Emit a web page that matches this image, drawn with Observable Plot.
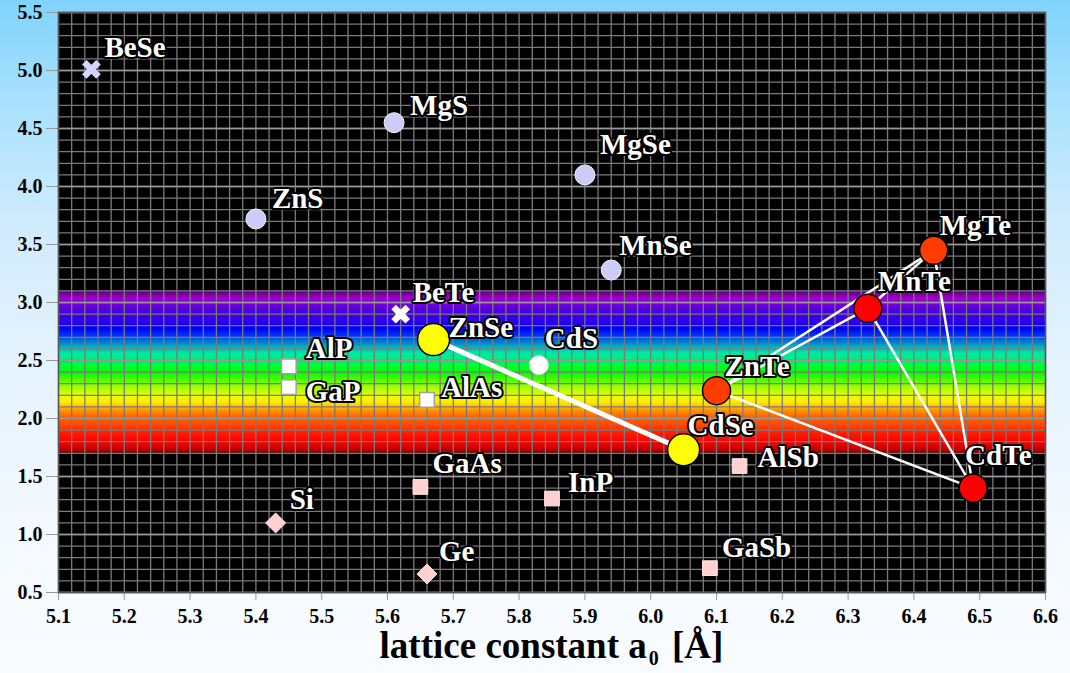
<!DOCTYPE html>
<html>
<head>
<meta charset="utf-8">
<script src="https://cdn.jsdelivr.net/npm/d3@7"></script>
<script src="https://cdn.jsdelivr.net/npm/@observablehq/plot@0.6"></script>
<style>
  html, body { margin: 0; padding: 0; }
  #chart {
    position: relative;
    width: 1070px;
    height: 673px;
    overflow: hidden;
    background: linear-gradient(to bottom, #7fd3fc 0%, #a6e0fd 14%, #cdebfd 32%, #e3f2fe 52%, #f3f9ff 78%, #f9fcff 100%);
    font-family: "Liberation Serif", "Times New Roman", serif;
  }
  #chart svg g[aria-label$="tick label"],
  #chart svg .tick text {
    font-size: 20px;
    font-weight: bold;
    font-family: "Liberation Serif", serif;
  }
  #xlabel {
    position: absolute;
    left: 58px;
    width: 987px;
    top: 631px;
    text-align: center;
    font-size: 37px;
    line-height: 30px;
    font-weight: bold;
    color: #000;
    white-space: nowrap;
  }
  #xlabel sub { font-size: 20px; vertical-align: -7px; margin: 0 4px 0 2px; line-height: 0; }
</style>
</head>
<body>
<div id="chart"></div>
<script>
// Semiconductor compounds: lattice constant a0 (Å) vs band-gap energy (eV)
const compounds = ["BeSe", "MgS", "MgSe", "ZnS", "MnSe", "BeTe", "ZnSe", "CdS", "AlP", "GaP", "AlAs",
                   "ZnTe", "CdSe", "AlSb", "MgTe", "MnTe", "CdTe", "GaAs", "InP", "Si", "Ge", "GaSb"];
const latticeA  = [5.15, 5.61, 5.90, 5.40, 5.94, 5.62, 5.67, 5.83, 5.45, 5.45, 5.66,
                   6.10, 6.05, 6.135, 6.43, 6.33, 6.49, 5.65, 5.85, 5.43, 5.66, 6.09];
const gapEV     = [5.01, 4.55, 4.10, 3.72, 3.28, 2.90, 2.68, 2.46, 2.45, 2.27, 2.16,
                   2.24, 1.73, 1.59, 3.45, 2.95, 1.40, 1.41, 1.31, 1.10, 0.66, 0.71];
// Marker category of each compound
const kind      = ["BeSe", "wideII-VI", "wideII-VI", "wideII-VI", "wideII-VI", "BeTe", "ZnCdSe", "CdS", "III-V light", "III-V light", "III-V light",
                   "Te light", "ZnCdSe", "III-V", "Te light", "Te dark", "Te dark", "III-V", "III-V", "IV", "IV", "III-V"];

// Alloy tie lines
const seLinks = [["ZnSe", "CdSe"]];
const teLinks = [["ZnTe", "MgTe"], ["ZnTe", "MnTe"], ["MnTe", "MgTe"], ["ZnTe", "CdTe"], ["MnTe", "CdTe"], ["MgTe", "CdTe"]];

// Axis ranges and tick labels
const xDomain = [5.1, 6.6];
const yDomain = [0.5, 5.5];
const xTicks = [5.1, 5.2, 5.3, 5.4, 5.5, 5.6, 5.7, 5.8, 5.9, 6.0, 6.1, 6.2, 6.3, 6.4, 6.5, 6.6];
const yTicks = [0.5, 1.0, 1.5, 2.0, 2.5, 3.0, 3.5, 4.0, 4.5, 5.0, 5.5];

// Visible-light band (eV) and its colour stops
const visibleBand = [{lo: 1.70, hi: 3.10}];
const spectrumStops = [
  [3.10, "#440060"], [3.07, "#7a009a"], [3.03, "#a000cc"], [2.98, "#7400d8"], [2.92, "#4a00e0"],
  [2.84, "#3000ec"], [2.77, "#0000ff"], [2.71, "#0038f0"], [2.66, "#0078d0"], [2.61, "#00b8c0"],
  [2.56, "#00e8a8"], [2.50, "#00f070"], [2.45, "#00ff30"], [2.39, "#00ff00"], [2.33, "#50ff00"],
  [2.26, "#a8ff00"], [2.19, "#e8ff00"], [2.14, "#ffec00"], [2.10, "#ffc000"], [2.06, "#ff8c00"],
  [2.01, "#ff6400"], [1.94, "#ff4800"], [1.88, "#ff2000"], [1.82, "#ff0800"], [1.76, "#e00000"],
  [1.72, "#b00000"], [1.70, "#700000"]
];

// Marker appearance per category
const markerStyle = {
  "BeSe":        {symbol: "times",    r: 6.5, stroke: "#d4d4ff", strokeWidth: 6.5},
  "BeTe":        {symbol: "times",    r: 6.5, stroke: "#ffffff", strokeWidth: 6.5},
  "wideII-VI":   {symbol: "circle",   r: 10,  fill: "#ccccf6", stroke: "#f0f0ff", strokeWidth: 1},
  "CdS":         {symbol: "circle",   r: 9.5, fill: "#ffffff", stroke: "#dddddd", strokeWidth: 1},
  "III-V light": {symbol: "square",   r: 8.3, fill: "#ffffff", stroke: "#a0a0a0", strokeWidth: 1.5},
  "III-V":       {symbol: "square",   r: 8.3, fill: "#ffd0d0", stroke: "#ffe8e8", strokeWidth: 1},
  "IV":          {symbol: "diamond2", r: 9,   fill: "#ffd0d0", stroke: "#ffe8e8", strokeWidth: 1},
  "ZnCdSe":      {symbol: "circle",   r: 16,  fill: "#ffff00", stroke: "#000000", strokeWidth: 1.5},
  "Te light":    {symbol: "circle",   r: 14,  fill: "#ff3c00", stroke: "#000000", strokeWidth: 1.5},
  "Te dark":     {symbol: "circle",   r: 14,  fill: "#ff0000", stroke: "#000000", strokeWidth: 1.5}
};

// Label placement relative to each marker (pixels)
const labelNudge = {
  BeSe: [13, -22], MgS: [16, -17], MgSe: [15, -30], ZnS: [16, -20], MnSe: [8, -24],
  BeTe: [12, -21], ZnSe: [15, -12], CdS: [6, -26], AlP: [17, -18], GaP: [17, 5],
  AlAs: [14, -12], ZnTe: [8, -24], CdSe: [4, -24], AlSb: [18, -8], MgTe: [6, -25],
  MnTe: [10, -27], CdTe: [-8, -32], GaAs: [12, -23], InP: [16, -16], Si: [14, -23],
  Ge: [12, -22], GaSb: [12, -20]
};

const points = compounds.map((name, i) => ({name, a: latticeA[i], eg: gapEV[i], kind: kind[i]}));
const byName = new Map(points.map(p => [p.name, p]));
const linkRows = pairs => pairs.map(([s, t]) => ({s: byName.get(s), t: byName.get(t)}));

// Fine grid: every 0.02 Å and every 0.1 eV
const xGrid = d3.range(0, 76).map(i => +(xDomain[0] + i * 0.02).toFixed(2));
const yGrid = d3.range(0, 51).map(i => +(yDomain[0] + i * 0.1).toFixed(1));
const yMajor = yGrid.filter(v => Math.abs(v * 2 - Math.round(v * 2)) < 1e-6);

// Vertical gradient used to paint the visible-light band
const spectrumDefs = () => {
  const defs = d3.create("svg:defs");
  const grad = defs.append("linearGradient")
    .attr("id", "spectrum").attr("x1", 0).attr("y1", 0).attr("x2", 0).attr("y2", 1);
  const {lo, hi} = visibleBand[0];
  for (const [e, c] of spectrumStops) {
    grad.append("stop").attr("offset", ((hi - e) / (hi - lo)).toFixed(4)).attr("stop-color", c);
  }
  return defs.node();
};

const dotMarks = Object.entries(markerStyle).map(([k, s]) =>
  Plot.dot(points.filter(p => p.kind === k), {x: "a", y: "eg", ...s})
);

// Plot.text dx/dy are constants, so labels are grouped by identical nudges
const nudgeGroups = d3.groups(points, p => labelNudge[p.name].join(","));
const labelMarks = [];
for (const [key, rows] of nudgeGroups) {
  const [dx, dy] = key.split(",").map(Number);
  const base = {x: "a", y: "eg", text: "name", dx, dy, textAnchor: "start",
                fontSize: 29, fontWeight: "bold", fontFamily: "Liberation Serif, serif"};
  labelMarks.push(Plot.text(rows, {...base, fill: "black", stroke: "black", strokeWidth: 4, strokeLinejoin: "round"}));
  labelMarks.push(Plot.text(rows, {...base, fill: "white"}));
}

const chart = Plot.plot({
  width: 1070,
  height: 632,
  marginLeft: 58,
  marginRight: 25,
  marginTop: 12,
  marginBottom: 40,
  style: {background: "transparent", fontFamily: "Liberation Serif, serif", fontSize: "20px", fontWeight: "bold", color: "black", overflow: "visible"},
  x: {domain: xDomain, ticks: xTicks, tickFormat: d3.format(".1f"), tickSize: 8, tickPadding: 8, label: null},
  y: {domain: yDomain, ticks: yTicks, tickFormat: d3.format(".1f"), tickSize: 12, tickPadding: 4, label: null},
  marks: [
    spectrumDefs,
    Plot.frame({fill: "black"}),
    Plot.rect(visibleBand, {x1: xDomain[0], x2: xDomain[1], y1: "lo", y2: "hi", fill: "url(#spectrum)"}),
    Plot.ruleX(xGrid, {stroke: "#7a7a7a", strokeWidth: 1.3}),
    Plot.ruleY(yGrid, {stroke: "#7a7a7a", strokeWidth: 1.3}),
    Plot.ruleY(yMajor, {stroke: "#9a9a9a", strokeWidth: 1.3}),
    Plot.frame({stroke: "#555", strokeWidth: 1.5}),
    Plot.link(linkRows(seLinks), {x1: d => d.s.a, y1: d => d.s.eg, x2: d => d.t.a, y2: d => d.t.eg, stroke: "white", strokeWidth: 5}),
    Plot.link(linkRows(teLinks), {x1: d => d.s.a, y1: d => d.s.eg, x2: d => d.t.a, y2: d => d.t.eg, stroke: "white", strokeWidth: 2.5}),
    ...dotMarks,
    ...labelMarks
  ]
});

// Grey tick marks, black bold tick labels
const svg = d3.select(chart);
svg.selectAll('g[aria-label="x-axis tick"], g[aria-label="y-axis tick"]').attr("stroke", "#9a9a9a");
svg.selectAll(".tick line").attr("stroke", "#9a9a9a");
svg.selectAll('g[aria-label$="tick label"]').attr("font-size", 20).attr("font-weight", "bold");

const root = document.getElementById("chart");
root.appendChild(chart);

const xlabel = document.createElement("div");
xlabel.id = "xlabel";
xlabel.innerHTML = "lattice constant a<sub>0</sub> [Å]";
root.appendChild(xlabel);
</script>
</body>
</html>
